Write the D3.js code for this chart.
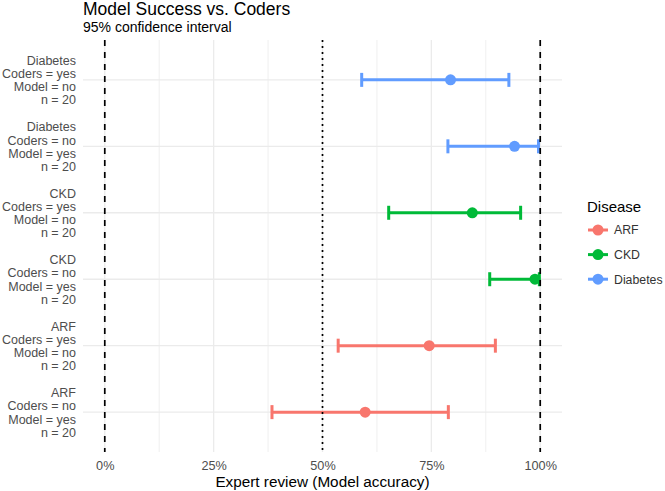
<!DOCTYPE html>
<html>
<head>
<meta charset="utf-8">
<script src="https://cdn.jsdelivr.net/npm/d3@7"></script>
<style>
  body{margin:0;background:#fff;}
  text{font-family:"Liberation Sans",Arial,sans-serif;}
</style>
</head>
<body>
<svg class="chart"></svg>
<script>
// rows, top to bottom
var diseases=["Diabetes","Diabetes","CKD","CKD","ARF","ARF"]
var coders=["yes","no","yes","no","yes","no"]
var model=["no","yes","no","yes","no","yes"]
var nCases=[20,20,20,20,20,20]
var accuracy=[0.794,0.941,0.844,0.988,0.745,0.598]
var ciLow=[0.590,0.788,0.652,0.884,0.536,0.384]
var ciHigh=[0.928,0.996,0.955,0.998,0.897,0.789]

var legendNames=["ARF","CKD","Diabetes"]
var legendColors=["#F8766D","#00BA38","#619CFF"]
var xTicks=[0,0.25,0.5,0.75,1]
var xMinor=[0.125,0.375,0.625,0.875]
var refLines=[{v:0,dash:"6,6"},{v:1,dash:"6,6"},{v:0.5,dash:"2,4"}]

var width=665, height=491
var panel={left:83,right:562,top:40,bottom:452}

var rows=diseases.map(function(d,i){
    return {id:i, disease:d, coders:coders[i], model:model[i], n:nCases[i],
            est:accuracy[i], lo:ciLow[i], hi:ciHigh[i]}
})

var color=d3.scaleOrdinal().domain(legendNames).range(legendColors)

var xScale=d3.scaleLinear()
    .domain([-0.05,1.05])
    .range([panel.left,panel.right])

var yScale=d3.scalePoint()
    .domain(rows.map(function(r){return r.id}))
    .range([panel.top,panel.bottom])
    .padding(0.6)

var chart=d3.select(".chart")
    .attr("width",width)
    .attr("height",height)

//--------GRID------------
var grid=chart.append("g")
grid.selectAll("line.minor").data(xMinor).enter().append("line")
    .attr("x1",function(d){return xScale(d)}).attr("x2",function(d){return xScale(d)})
    .attr("y1",panel.top).attr("y2",panel.bottom)
    .attr("stroke","#EBEBEB").attr("stroke-width",0.8)
grid.selectAll("line.major").data(xTicks).enter().append("line")
    .attr("x1",function(d){return xScale(d)}).attr("x2",function(d){return xScale(d)})
    .attr("y1",panel.top).attr("y2",panel.bottom)
    .attr("stroke","#EBEBEB").attr("stroke-width",1.3)
grid.selectAll("line.row").data(rows).enter().append("line")
    .attr("x1",panel.left).attr("x2",panel.right)
    .attr("y1",function(d){return yScale(d.id)}).attr("y2",function(d){return yScale(d.id)})
    .attr("stroke","#EBEBEB").attr("stroke-width",1.3)

//--------ERROR BARS + POINTS------------
var marks=chart.append("g")
var capH=7
rows.forEach(function(r){
    var y=yScale(r.id), c=color(r.disease)
    marks.append("line")
        .attr("x1",xScale(r.lo)).attr("x2",xScale(r.hi))
        .attr("y1",y).attr("y2",y)
        .attr("stroke",c).attr("stroke-width",3)
    ;[r.lo,r.hi].forEach(function(v){
        marks.append("line")
            .attr("x1",xScale(v)).attr("x2",xScale(v))
            .attr("y1",y-capH).attr("y2",y+capH)
            .attr("stroke",c).attr("stroke-width",3)
    })
    marks.append("circle")
        .attr("cx",xScale(r.est)).attr("cy",y).attr("r",5.5)
        .attr("fill",c)
})

//--------REFERENCE LINES------------
chart.append("g").selectAll("line").data(refLines).enter().append("line")
    .attr("x1",function(d){return xScale(d.v)}).attr("x2",function(d){return xScale(d.v)})
    .attr("y1",panel.top).attr("y2",panel.bottom)
    .attr("stroke","#000").attr("stroke-width",1.7)
    .attr("stroke-dasharray",function(d){return d.dash})

//--------AXES------------
var xAxis=d3.axisBottom(xScale).tickValues(xTicks)
    .tickFormat(d3.format(".0%")).tickSize(0).tickPadding(9)
var gx=chart.append("g")
    .attr("transform","translate(0,"+panel.bottom+")")
    .call(xAxis)
gx.select(".domain").remove()
gx.selectAll("text").attr("fill","#4D4D4D").style("font-size","12.7px")
    .style("font-family","'Liberation Sans',Arial,sans-serif")

var yLab=chart.append("g")
rows.forEach(function(r){
    var lines=[r.disease,"Coders = "+r.coders,"Model = "+r.model,"n = "+r.n]
    var t=yLab.append("text")
        .attr("text-anchor","end")
        .attr("fill","#4D4D4D")
        .style("font-size","12.5px")
    lines.forEach(function(s,k){
        t.append("tspan").attr("x",76)
            .attr("y",yScale(r.id)-15+k*13.2)
            .text(s)
    })
})

//--------TITLES------------
chart.append("text").attr("x",83).attr("y",15)
    .style("font-size","17.5px").attr("fill","#000")
    .text("Model Success vs. Coders")
chart.append("text").attr("x",83).attr("y",32)
    .style("font-size","14px").attr("fill","#000")
    .text("95% confidence interval")
chart.append("text")
    .attr("x",(panel.left+panel.right)/2).attr("y",487)
    .attr("text-anchor","middle")
    .style("font-size","15.3px").attr("fill","#000")
    .text("Expert review (Model accuracy)")

//--------LEGEND------------
var legend=chart.append("g").attr("transform","translate(587,0)")
legend.append("text").attr("x",0).attr("y",212)
    .style("font-size","15px").attr("fill","#000")
    .text("Disease")
legendNames.forEach(function(name,i){
    var y=230+i*24.6
    legend.append("line")
        .attr("x1",1).attr("x2",21).attr("y1",y).attr("y2",y)
        .attr("stroke",legendColors[i]).attr("stroke-width",3)
    legend.append("circle").attr("cx",11).attr("cy",y).attr("r",5.5)
        .attr("fill",legendColors[i])
    legend.append("text").attr("x",27).attr("y",y+4.4)
        .style("font-size","12.3px").attr("fill","#333")
        .text(name)
})
</script>
</body>
</html>
